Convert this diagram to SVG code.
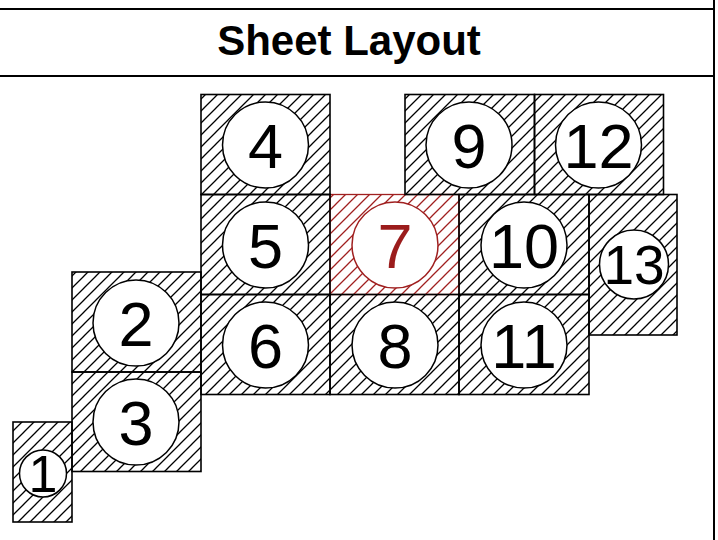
<svg xmlns="http://www.w3.org/2000/svg" width="718" height="540" viewBox="0 0 718 540">
<style>
.box{fill:url(#hatch);stroke:#000;stroke-width:1.6}
.box.red{fill:url(#hatchRed);stroke:#a02020;stroke-width:1.3}
.c{fill:#fff;stroke:#000;stroke-width:1.5}
.c.red{stroke:#a02020}
.n{font-family:"Liberation Sans",Arial,sans-serif;font-size:63px;text-anchor:middle;fill:#000}
.n.red{fill:#9b1c1c}
.title{font-family:"Liberation Sans",Arial,sans-serif;font-size:42px;font-weight:bold;text-anchor:middle;fill:#000}
.frame{stroke:#000;stroke-width:2;fill:none}
</style>
<defs>
<pattern id="hatch" patternUnits="userSpaceOnUse" width="12" height="12">
<path d="M-1,1 l2,-2 M0,12 l12,-12 M11,13 l2,-2" stroke="#000" stroke-width="1.3"/>
</pattern>
<pattern id="hatchRed" patternUnits="userSpaceOnUse" width="12" height="12">
<path d="M-1,1 l2,-2 M0,12 l12,-12 M11,13 l2,-2" stroke="#a02020" stroke-width="1.3"/>
</pattern>
</defs>
<rect x="0" y="0" width="718" height="540" fill="#fff"/>
<g id="frame">
<line class="frame" x1="0" y1="9" x2="714" y2="9"/>
<line class="frame" x1="0" y1="76" x2="714" y2="76"/>
<line class="frame" x1="714" y1="0" x2="714" y2="540"/>
<text class="title" x="349" y="55">Sheet Layout</text>
</g>
<g id="sheet7"><rect class="box red" x="330" y="194.5" width="129" height="100"/><circle class="c red" cx="395" cy="245" r="43"/><text class="n red" x="395" y="267.5">7</text></g>
<g id="sheet1"><rect class="box" x="13" y="422" width="59" height="100"/><circle class="c" cx="43" cy="473.5" r="23.5"/><text class="n" x="43" y="492" style="font-size:52px">1</text></g>
<g id="sheet2"><rect class="box" x="72" y="272" width="129" height="100"/><circle class="c" cx="136" cy="323" r="43"/><text class="n" x="136" y="345.5">2</text></g>
<g id="sheet3"><rect class="box" x="72" y="372" width="129" height="99.5"/><circle class="c" cx="136" cy="422" r="43"/><text class="n" x="136" y="444.5">3</text></g>
<g id="sheet4"><rect class="box" x="201" y="94.5" width="129" height="100"/><circle class="c" cx="265.5" cy="145" r="43"/><text class="n" x="265.5" y="167.5">4</text></g>
<g id="sheet5"><rect class="box" x="201" y="194.5" width="129" height="100"/><circle class="c" cx="265.5" cy="245" r="43"/><text class="n" x="265.5" y="267.5">5</text></g>
<g id="sheet6"><rect class="box" x="201" y="294.5" width="129" height="100"/><circle class="c" cx="265.5" cy="345" r="43"/><text class="n" x="265.5" y="367.5">6</text></g>
<g id="sheet8"><rect class="box" x="330" y="294.5" width="129" height="100"/><circle class="c" cx="395" cy="345" r="43"/><text class="n" x="395" y="367.5">8</text></g>
<g id="sheet9"><rect class="box" x="405" y="94.5" width="129.5" height="100"/><circle class="c" cx="469" cy="145" r="43"/><text class="n" x="469" y="167.5">9</text></g>
<g id="sheet12"><rect class="box" x="534.5" y="94.5" width="129" height="100"/><circle class="c" cx="598.5" cy="145" r="43"/><text class="n" x="598.5" y="167.5">12</text></g>
<g id="sheet10"><rect class="box" x="459" y="194.5" width="130" height="100"/><circle class="c" cx="524" cy="245" r="43"/><text class="n" x="524" y="267.5">10</text></g>
<g id="sheet11"><rect class="box" x="459" y="294.5" width="130" height="100"/><circle class="c" cx="524" cy="345" r="43"/><text class="n" x="524" y="367.5">11</text></g>
<g id="sheet13"><rect class="box" x="589" y="194.5" width="88" height="140.5"/><circle class="c" cx="634" cy="264.5" r="34.5"/><text class="n" x="634" y="284" style="font-size:55px">13</text></g>
<g id="connectors"></g>
</svg>
